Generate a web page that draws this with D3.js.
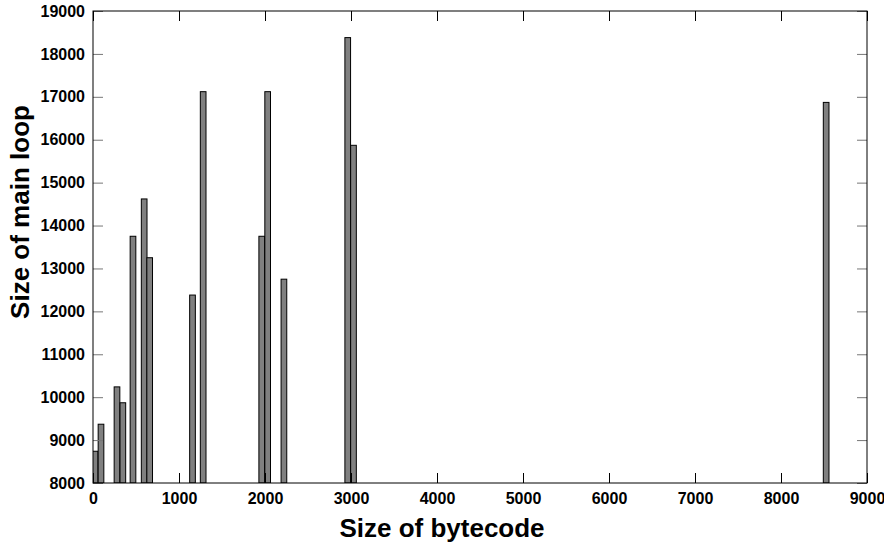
<!DOCTYPE html>
<html>
<head>
<meta charset="utf-8">
<script src="https://cdn.jsdelivr.net/npm/d3@7"></script>
<style>
  html, body { margin: 0; padding: 0; background: #fff; }
  svg { display: block; }
  text { font-family: "Liberation Sans", Arial, sans-serif; font-weight: bold; fill: #000; }
</style>
</head>
<body>
<svg id="chart" width="884" height="552"></svg>
<script>
// Bytecode size (x) against main-loop size (y), one box per program
const bytecodeSizes = [25, 93, 279, 347, 465, 595, 659, 1157, 1281, 1962, 2031, 2220, 2962, 3029, 8525];
const mainLoopSizes = [8740, 9370, 10240, 9870, 13750, 14620, 13250, 12380, 17120, 13750, 17120, 12750, 18380, 15870, 16870];
const xTicks = [0, 1000, 2000, 3000, 4000, 5000, 6000, 7000, 8000, 9000];
const yTicks = [8000, 9000, 10000, 11000, 12000, 13000, 14000, 15000, 16000, 17000, 18000, 19000];
const boxWidth = 66;

const svg = d3.select("#chart");
const margin = { left: 93, right: 17, top: 11, bottom: 69 };
const W = 884, H = 552;
const x = d3.scaleLinear().domain([0, 9000]).range([margin.left, W - margin.right]);
const y = d3.scaleLinear().domain([8000, 19000]).range([H - margin.bottom, margin.top]);

const data = bytecodeSizes.map((b, i) => ({ b, m: mainLoopSizes[i] }));

// clip boxes to the plot area
svg.append("clipPath").attr("id", "plot")
  .append("rect")
  .attr("x", x(0)).attr("y", y(19000))
  .attr("width", x(9000) - x(0)).attr("height", y(8000) - y(19000));

svg.append("g").attr("clip-path", "url(#plot)")
  .selectAll("rect").data(data).join("rect")
  .attr("x", d => x(d.b - boxWidth / 2))
  .attr("width", d => x(d.b + boxWidth / 2) - x(d.b - boxWidth / 2))
  .attr("y", d => y(d.m))
  .attr("height", d => y(8000) - y(d.m))
  .attr("fill", "#808080")
  .attr("stroke", "#000")
  .attr("stroke-width", 1);

// axes: ticks drawn inward on all four sides
const tickLen = 10;
const axLeft = svg.append("g").attr("transform", `translate(${x(0)},0)`)
  .call(d3.axisLeft(y).tickValues(yTicks).tickSize(-tickLen).tickPadding(8).tickFormat(d3.format("d")));
const axRight = svg.append("g").attr("transform", `translate(${x(9000)},0)`)
  .call(d3.axisRight(y).tickValues(yTicks).tickSize(-tickLen).tickFormat(""));
const axBottom = svg.append("g").attr("transform", `translate(0,${y(8000)})`)
  .call(d3.axisBottom(x).tickValues(xTicks).tickSize(-tickLen).tickPadding(10).tickFormat(d3.format("d")));
const axTop = svg.append("g").attr("transform", `translate(0,${y(19000)})`)
  .call(d3.axisTop(x).tickValues(xTicks).tickSize(-tickLen).tickFormat(""));

[axLeft, axRight, axBottom, axTop].forEach(g => {
  g.select(".domain").remove();
  g.selectAll("text").style("font-size", "16px").style("font-family", "Liberation Sans, Arial, sans-serif").style("font-weight", "bold").attr("fill", "#000");
});
[axLeft, axRight].forEach(g => g.selectAll("line").attr("stroke", "#777"));
[axBottom, axTop].forEach(g => g.selectAll("line").attr("stroke", "#000"));

// plot border
svg.append("rect")
  .attr("x", x(0)).attr("y", y(19000))
  .attr("width", x(9000) - x(0)).attr("height", y(8000) - y(19000))
  .attr("fill", "none").attr("stroke", "#000").attr("stroke-width", 1);

// axis titles
svg.append("text")
  .attr("x", 442).attr("y", 537)
  .attr("text-anchor", "middle").style("font-size", "26px")
  .text("Size of bytecode");
svg.append("text")
  .attr("transform", "translate(29,212) rotate(-90)")
  .attr("text-anchor", "middle").style("font-size", "26px")
  .text("Size of main loop");
</script>
</body>
</html>
